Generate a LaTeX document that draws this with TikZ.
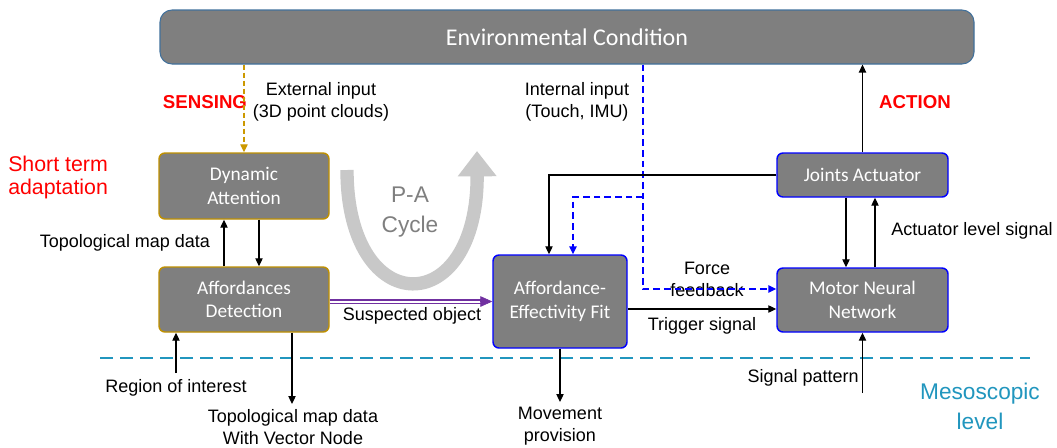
\documentclass[tikz,border=0pt]{standalone}
\usepackage{fontspec}
\setmainfont{Liberation Sans}
\newfontfamily\boxfont{Carlito}
\usetikzlibrary{arrows.meta,calc}
\definecolor{boxgray}{RGB}{127,127,127}
\definecolor{goldc}{RGB}{191,144,0}
\definecolor{orangec}{RGB}{204,153,0}
\definecolor{bluec}{RGB}{0,0,255}
\definecolor{envborder}{RGB}{65,113,156}
\definecolor{purplec}{RGB}{112,48,160}
\definecolor{tealc}{RGB}{33,150,190}
\definecolor{pagray}{RGB}{200,200,200}
\definecolor{patext}{RGB}{127,127,127}
\definecolor{redc}{RGB}{255,0,0}
\begin{document}
\begin{tikzpicture}[x=0.75pt,y=-0.75pt,
  box/.style={fill=boxgray, rounded corners=4.5pt, text=white,
    font=\boxfont\fontsize{14.5}{17.5}\selectfont, align=center, inner sep=0pt},
  goldbox/.style={box, draw=goldc, line width=1.1pt},
  bluebox/.style={box, draw=bluec, line width=1.1pt},
  arr/.style={line width=0.9pt, -{Triangle[length=6pt,width=5.5pt]}},
  bluedash/.style={line width=1.1pt, draw=bluec, dash pattern=on 5pt off 3pt,
    -{Triangle[length=6pt,width=5.5pt,fill=bluec]}},
  orangedash/.style={line width=1pt, draw=orangec, dash pattern=on 4pt off 2pt,
    -{Triangle[length=6pt,width=5.5pt, fill=orangec]}},
  lbl/.style={font=\fontsize{13.5}{16.5}\selectfont, align=center, inner sep=0pt},
  hdr/.style={font=\bfseries\fontsize{14}{16}\selectfont, text=redc, inner sep=0pt},
]
\useasboundingbox (0,0) rectangle (1057,447);
\fill[white] (0,0) rectangle (1057,447);

% separator
\coordinate (sepL) at (100,358);
\coordinate (sepR) at (1030,358);
\draw[tealc, line width=2.2pt, dash pattern=on 10pt off 5pt] (sepL) -- (sepR);

% P-A cycle arrow
\draw[pagray, line width=10pt, -{Triangle[length=19pt,width=28pt]}]
  (347,170) .. controls (347,321) and (478,321) .. (477,151);
\node[font=\fontsize{17}{22}\selectfont, text=patext, align=center, inner sep=0pt] (pa) at (410,212) {P-A\\Cycle};

% boxes
\node[box, draw=envborder, line width=0.8pt, rounded corners=9pt,
  minimum width=610.5pt, minimum height=40.5pt,
  font=\boxfont\fontsize{18}{20}\selectfont] (ENV) at (567,37) {Environmental Condition};
\node[goldbox, minimum width=127.5pt, minimum height=49.5pt] (DA) at (244,186) {Dynamic\\Attention};
\node[goldbox, minimum width=127.5pt, minimum height=48.75pt] (AD) at (244,299.5) {Affordances\\Detection};
\node[bluebox, minimum width=100.5pt, minimum height=69.75pt] (AEF) at (560,301.5) {Affordance-\\Effectivity Fit};
\node[bluebox, minimum width=128.25pt, minimum height=33pt] (JA) at (862.5,175) {Joints Actuator};
\node[bluebox, minimum width=128.25pt, minimum height=48pt] (MNN) at (862.5,300) {Motor Neural\\Network};

% labels
\node[hdr] (sens) at (205,102) {SENSING};
\node[hdr] (act) at (915,102) {ACTION};
\node[font=\fontsize{16}{17.25}\selectfont, text=redc, align=left, inner sep=0pt, anchor=west] (sta) at (8,177.5) {Short term\\adaptation};
\node[font=\fontsize{17}{22}\selectfont, text=tealc, align=center, inner sep=0pt] (meso) at (980,406.5) {Mesoscopic\\level};
\node[lbl] (ext) at (321,102) {External input\\(3D point clouds)};
\node[lbl] (int) at (577,102) {Internal input\\(Touch, IMU)};
\node[lbl] (tmd) at (125,243) {Topological map data};
\node[lbl] (sus) at (412,316) {Suspected object};
\node[lbl] (ff) at (707,279) {Force\\feedback};
\node[lbl] (trig) at (702,326) {Trigger signal};
\node[lbl] (als) at (972,231) {Actuator level signal};
\node[lbl] (roil) at (176,388) {Region of interest};
\node[lbl] (tmv) at (293,427) {Topological map data\\With Vector Node};
\node[lbl] (mov) at (560,426) {Movement\\provision};
\node[lbl, anchor=east] (sig) at (859,378) {Signal pattern};

% connectors
\draw[orangedash] (ENV.south -| DA.north) -- (DA.north);

\coordinate (bx) at (643,289);
\coordinate (bb) at (643,197);
\coordinate (bc) at (573,197);
\draw[bluedash] (ENV.south -| bx) -- (bx) -- (bx -| MNN.west);
\draw[bluedash] (bb) -- (bc) -- (bc |- AEF.north);

\coordinate (jc) at (549,175);
\draw[arr] (JA.west) -- (jc) -- (jc |- AEF.north);

\coordinate (jd) at ($(JA.south)+(-16.5,0)$);
\coordinate (ju) at ($(JA.south)+(12.5,0)$);
\draw[arr] (jd) -- (jd |- MNN.north);
\draw[arr] (ju |- MNN.north) -- (ju);
\draw[arr] (JA.north) -- (JA.north |- ENV.south);

\coordinate (tg) at ($(AEF.east)+(0,7.5)$);
\draw[arr] (tg) -- (tg -| MNN.west);

\coordinate (pe) at ($(AEF.west)+(-11,0)$);
\draw[purplec, line width=1pt, double=white, double distance=1.5pt] (AD.east |- AEF.west) -- (pe);
\draw[purplec, line width=0.5pt, -{Triangle[length=9pt,width=8pt]}] ($(pe)+(-1,0)$) -- (AEF.west);

\coordinate (du) at ($(DA.south)+(-20,0)$);
\coordinate (dd) at ($(DA.south)+(15,0)$);
\draw[arr] (du |- AD.north) -- (du);
\draw[arr] (dd) -- (dd |- AD.north);

\coordinate (roi) at (176,373);
\draw[arr] (roi) -- (roi |- AD.south);
\coordinate (tmvc) at (292,404);
\draw[arr] (AD.south -| tmvc) -- (tmvc);
\coordinate (movc) at (560,402);
\draw[arr] (AEF.south) -- (movc);
\coordinate (sigc) at (862.5,393);
\draw[arr] (sigc) -- (MNN.south);
\end{tikzpicture}
\end{document}
